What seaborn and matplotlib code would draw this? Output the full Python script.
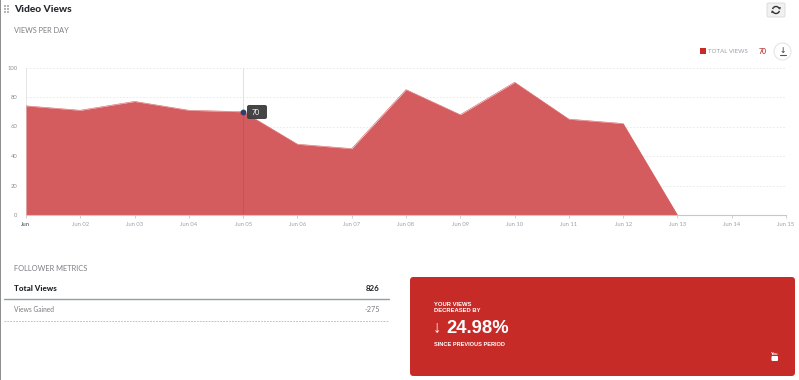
import matplotlib
matplotlib.use("Agg")
import matplotlib.pyplot as plt
import pandas as pd
import seaborn as sns
from matplotlib.patches import FancyBboxPatch, Rectangle, Circle, Arc, Polygon

days = list(range(1, 16))
views = [74, 71, 77, 71, 70, 48, 45, 85, 68, 90, 65, 62, 0, 0, 0]
day_labels = ["Jun", "Jun 02", "Jun 03", "Jun 04", "Jun 05", "Jun 06", "Jun 07", "Jun 08",
              "Jun 09", "Jun 10", "Jun 11", "Jun 12", "Jun 13", "Jun 14", "Jun 15"]
y_ticks = [0, 20, 40, 60, 80, 100]
hover_day = 5
hover_value = 70

RED = "#c62b28"
W, H = 799, 380

sns.set_theme(style="white")
plt.rcParams["font.family"] = ["Lato", "DejaVu Sans"]

df = pd.DataFrame({"day": days, "views": views})

fig = plt.figure(figsize=(W / 100, H / 100), dpi=100, facecolor="white")

# page furniture is drawn in pixel coordinates on a full-figure axes
page = fig.add_axes([0, 0, 1, 1], zorder=0)
page.set_xlim(0, W)
page.set_ylim(H, 0)
page.axis("off")

# chart area: Jun 01 at x=26, Jun 15 at x=786, 100 at y=67.5, 0 at y=215
ax = fig.add_axes([26 / W, 1 - 215 / H, 760 / W, 147.5 / H], zorder=1)
ax.patch.set_alpha(0)
ax.set_xlim(1, 15)
ax.set_ylim(0, 100)

ax.fill_between(df["day"], df["views"], 0, color="#d55c5e", lw=0, zorder=2)
# outline stops at the last non-zero stretch so the baseline stays grey
sns.lineplot(data=df[df["day"] <= 13], x="day", y="views", ax=ax, color="#d55c5e", lw=0.4, zorder=3, legend=False)

for t in y_ticks[1:]:
    ax.axhline(t, color="#e6e6e6", lw=0.6, ls=(0, (2, 2)), zorder=1)
ax.axvline(1, color="#e2e2e2", lw=0.6, zorder=1)
ax.axvline(hover_day, color="#c04f51", lw=0.5, ymax=hover_value / 100, zorder=4)
ax.axvline(hover_day, color="#dcdcdc", lw=0.6, ymin=hover_value / 100, zorder=4)
ax.plot([hover_day], [hover_value], "o", ms=3.2, color="#2f3f6b", zorder=6, clip_on=False)

ax.set_xticks(days)
ax.set_xticklabels(day_labels)
ax.set_yticks(y_ticks)
ax.set_xlabel("")
ax.set_ylabel("")
ax.tick_params(axis="x", length=2, width=0.6, color="#c8c8c8", labelsize=4.2, labelcolor="#9aa2aa", pad=3, bottom=True)
ax.tick_params(axis="y", length=0, labelsize=4.2, labelcolor="#8e8e8e", pad=6)
ax.get_xticklabels()[0].set_fontweight("bold")
ax.get_xticklabels()[0].set_color("#6f7780")
for s in ["top", "right", "left"]:
    ax.spines[s].set_visible(False)
ax.spines["bottom"].set_color("#c8c8c8")
ax.spines["bottom"].set_linewidth(0.8)
ax.spines["bottom"].set_zorder(5)

# tooltip
over = fig.add_axes([0, 0, 1, 1], zorder=3)
over.set_xlim(0, W)
over.set_ylim(H, 0)
over.axis("off")
over.add_patch(FancyBboxPatch((247, 105), 20, 14, boxstyle="round,pad=0,rounding_size=2",
                              fc="#3f3f3f", ec="none", alpha=0.97))
over.text(256, 112.3, str(hover_value), color="white", fontsize=5, ha="center", va="center")

# headings
page.add_patch(Rectangle((0, 0), 1.3, H, fc="#8f8f8f", ec="none"))
for gx in (4.3, 7.3):
    for gy in (6, 9, 12):
        page.add_patch(Rectangle((gx, gy - 0.7), 1.5, 1.5, fc="#b5b5b5", ec="none"))
page.text(14, 9, "Video Views", fontsize=7.4, fontweight="black", color="#26292e", va="center")
page.text(14, 30.5, "VIEWS PER DAY", fontsize=5.3, color="#7c7f84", va="center")
page.text(14, 268.5, "FOLLOWER METRICS", fontsize=5.4, color="#7c7f84", va="center")

# refresh button, two arcs with arrow heads
page.add_patch(FancyBboxPatch((767, 3), 18, 14, boxstyle="round,pad=0,rounding_size=1.5",
                              fc="#f1f1f1", ec="#d8d8d8", lw=0.6))
page.add_patch(Arc((776, 10), 7, 7, theta1=195, theta2=335, color="#333333", lw=1))
page.add_patch(Arc((776, 10), 7, 7, theta1=15, theta2=155, color="#333333", lw=1))
page.add_patch(Polygon([(778.2, 7.2), (781, 7.2), (780, 10)], fc="#333333", ec="none"))
page.add_patch(Polygon([(773.8, 12.8), (771, 12.8), (772, 10)], fc="#333333", ec="none"))

# legend and download button
page.add_patch(Rectangle((700.3, 48.3), 6, 6, fc=RED, ec="none"))
page.text(708, 51.2, "TOTAL VIEWS", fontsize=4.4, color="#9aa2aa", va="center")
page.text(759, 51.2, str(hover_value), fontsize=5, color="#b8474a", va="center", fontweight="bold")
page.add_patch(Circle((782.5, 51.5), 8.5, fc="white", ec="#e2e2e2", lw=0.7))
page.text(782.5, 50.5, "\u2193", fontsize=5.5, color="#555555", ha="center", va="center",
          family=["DejaVu Sans"], fontweight="bold")
page.plot([779.5, 785.5], [54.8, 54.8], color="#555555", lw=0.8)

# metrics table
page.text(14, 288.5, "Total Views", fontsize=5.8, fontweight="black", color="#1d2024", va="center")
page.text(380, 288.5, "826", fontsize=5.7, fontweight="bold", color="#1d2024", ha="right", va="center")
page.plot([4, 389], [298.5, 298.5], color="#8ba0a6", lw=1)
page.text(14, 309.8, "Views Gained", fontsize=4.8, color="#777b80", va="center")
page.text(380, 309.8, "-275", fontsize=5.2, color="#777b80", ha="right", va="center")
page.plot([4, 389], [320.5, 320.5], color="#b5b5b5", lw=0.6, ls=(0, (2, 1.5)))

# red summary card
page.add_patch(FancyBboxPatch((410, 277), 385, 99, boxstyle="round,pad=0,rounding_size=3.5",
                              fc=RED, ec="none"))
sans = ["Liberation Sans", "DejaVu Sans"]
page.text(434.5, 304.8, "YOUR VIEWS", fontsize=4.2, fontweight="bold", color="white", va="center", family=sans)
page.text(434.5, 311, "DECREASED BY", fontsize=4.2, fontweight="bold", color="white", va="center", family=sans)
page.text(436.7, 328, "\u2193", fontsize=12, color="white", ha="center", va="center", family=sans)
page.text(446, 328.5, "24.98%", fontsize=13.2, fontweight="bold", color="white", va="center", family=sans)
page.text(434.5, 344.8, "SINCE PREVIOUS PERIOD", fontsize=4.1, fontweight="bold", color="white", va="center", family=sans)

# youtube glyph
page.add_patch(FancyBboxPatch((771.5, 356), 6.5, 5, boxstyle="round,pad=0,rounding_size=1", fc="white", ec="none"))
page.text(774.8, 353.7, "You", fontsize=3, color="white", ha="center", va="center", fontweight="bold", family=sans)

fig.savefig("out.png", dpi=100, facecolor="white")
